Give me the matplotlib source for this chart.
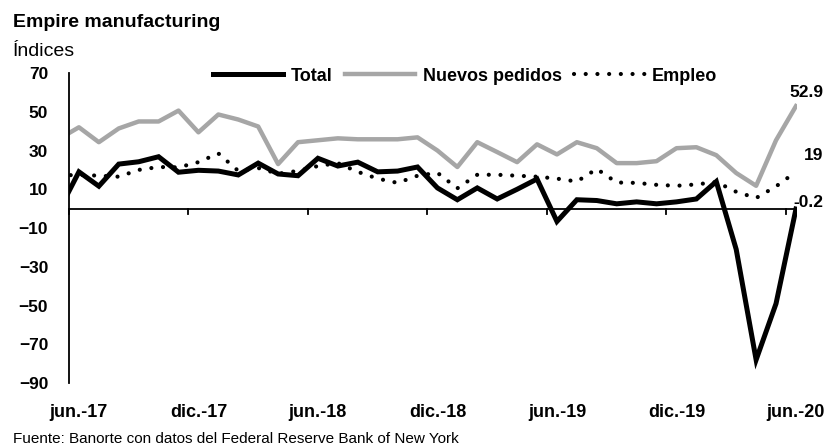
import matplotlib
matplotlib.use('Agg')
import matplotlib.pyplot as plt
from matplotlib import font_manager

# font: prefer a narrow Arial-like face if available
names = set(f.name for f in font_manager.fontManager.ttflist)
fam = [f for f in ['Liberation Sans Narrow', 'Liberation Sans', 'DejaVu Sans'] if f in names]
plt.rcParams['font.family'] = fam

# monthly data, may-17 .. jun-20 (may-17 only shows as the clipped start)
months = ['may.-17', 'jun.-17', 'jul.-17', 'ago.-17', 'sep.-17', 'oct.-17', 'nov.-17', 'dic.-17',
          'ene.-18', 'feb.-18', 'mar.-18', 'abr.-18', 'may.-18', 'jun.-18', 'jul.-18', 'ago.-18',
          'sep.-18', 'oct.-18', 'nov.-18', 'dic.-18', 'ene.-19', 'feb.-19', 'mar.-19', 'abr.-19',
          'may.-19', 'jun.-19', 'jul.-19', 'ago.-19', 'sep.-19', 'oct.-19', 'nov.-19', 'dic.-19',
          'ene.-20', 'feb.-20', 'mar.-20', 'abr.-20', 'may.-20', 'jun.-20']
total = [-1.0, 19.0, 11.6, 23.0, 24.2, 26.8, 18.8, 19.8, 19.4, 17.4, 23.5, 17.9, 17.0, 26.0,
         22.0, 24.0, 19.0, 19.4, 21.5, 10.7, 4.6, 10.7, 5.0, 10.0, 15.3, -6.6, 4.6, 4.2,
         2.5, 3.5, 2.5, 3.5, 5.0, 14.0, -21.0, -78.0, -49.0, -0.2]
nuevos = [36.0, 42.0, 34.3, 41.4, 45.0, 45.0, 50.6, 39.4, 48.6, 46.0, 42.4, 23.0, 34.3, 35.3,
          36.3, 35.8, 35.8, 35.8, 36.8, 30.0, 21.5, 34.3, 29.2, 24.0, 33.2, 28.0, 34.3, 31.2,
          23.5, 23.5, 24.5, 31.2, 31.7, 27.6, 18.4, 11.8, 35.3, 52.9]
empleo = [17.0, 17.5, 17.0, 16.5, 20.0, 21.5, 21.3, 24.0, 28.5, 19.5, 21.0, 18.0, 19.5, 22.0,
          23.5, 19.0, 15.5, 13.3, 17.0, 18.5, 10.5, 17.5, 17.5, 17.0, 16.5, 15.5, 14.0, 20.5,
          13.5, 13.3, 12.3, 11.8, 12.5, 13.8, 8.7, 5.5, 11.5, 19.0]
tick_labels = ['jun.-17', 'dic.-17', 'jun.-18', 'dic.-18', 'jun.-19', 'dic.-19', 'jun.-20']

x = list(range(-1, len(months) - 1))  # jun.-17 at 0

fig = plt.figure(figsize=(8.25, 4.48), dpi=100)
ax = fig.add_axes([0.0836, 0.145, 0.8824, 0.692])

ax.plot(x, total, color='black', lw=3.6, solid_joinstyle='miter', label='Total', zorder=3)
ax.plot(x, nuevos, color='#A6A6A6', lw=3.2, label='Nuevos pedidos', zorder=2)
ax.plot(x, empleo, color='black', lw=3.0, linestyle=(0, (0.01, 2.8)),
        dash_capstyle='round', label='Empleo', zorder=2)

ax.set_xlim(-0.5, 36.05)
ax.set_ylim(-90, 70)
ax.set_yticks(range(-90, 71, 20))
ax.tick_params(axis='y', length=0, pad=15)
for t in ax.get_yticklabels():
    t.set_fontweight('bold')
    t.set_fontsize(12.5)

ax.spines['top'].set_visible(False)
ax.spines['right'].set_visible(False)
ax.spines['bottom'].set_visible(False)
ax.spines['left'].set_linewidth(1.3)

# horizontal axis at zero with tick marks between months
ax.axhline(0, color='black', lw=1.3, zorder=1)
ax.set_xticks([])
for i in range(0, 37, 6):
    ax.plot([i - 0.5, i - 0.5], [0, -2.6], color='black', lw=1.3, clip_on=False, zorder=1)
for i, lab in enumerate(tick_labels):
    ax.text(i * 6, -0.111, lab, ha='center', va='baseline', fontsize=13, fontweight='bold',
            transform=ax.get_xaxis_transform())

# end labels
ax.annotate('52.9', xy=(x[-1], nuevos[-1]), xytext=(20, 10), textcoords='offset points',
            ha='right', va='center', fontsize=12.5, fontweight='bold', annotation_clip=False)
ax.annotate('19', xy=(x[-1], empleo[-1]), xytext=(20, 12), textcoords='offset points',
            ha='right', va='center', fontsize=12.5, fontweight='bold', annotation_clip=False)
ax.annotate('-0.2', xy=(x[-1], total[-1]), xytext=(20, 4.5), textcoords='offset points',
            ha='right', va='center', fontsize=12.5, fontweight='bold', annotation_clip=False)

leg = ax.legend(loc='center', bbox_to_anchor=(0.544, 0.99), ncol=3, frameon=False,
                prop={'weight': 'bold', 'size': 13}, handlelength=3.9, handletextpad=0.4,
                columnspacing=0.7, borderpad=0, borderaxespad=0)

fig.text(0.0155, 0.9397, 'Empire manufacturing', fontsize=14, fontweight='bold', va='baseline')
fig.text(0.0155, 0.875, 'Índices', fontsize=14, va='baseline')
fig.text(0.0155, 0.0105, 'Fuente: Banorte con datos del Federal Reserve Bank of New York',
         fontsize=11, va='baseline')

fig.savefig('out.png', dpi=100)
